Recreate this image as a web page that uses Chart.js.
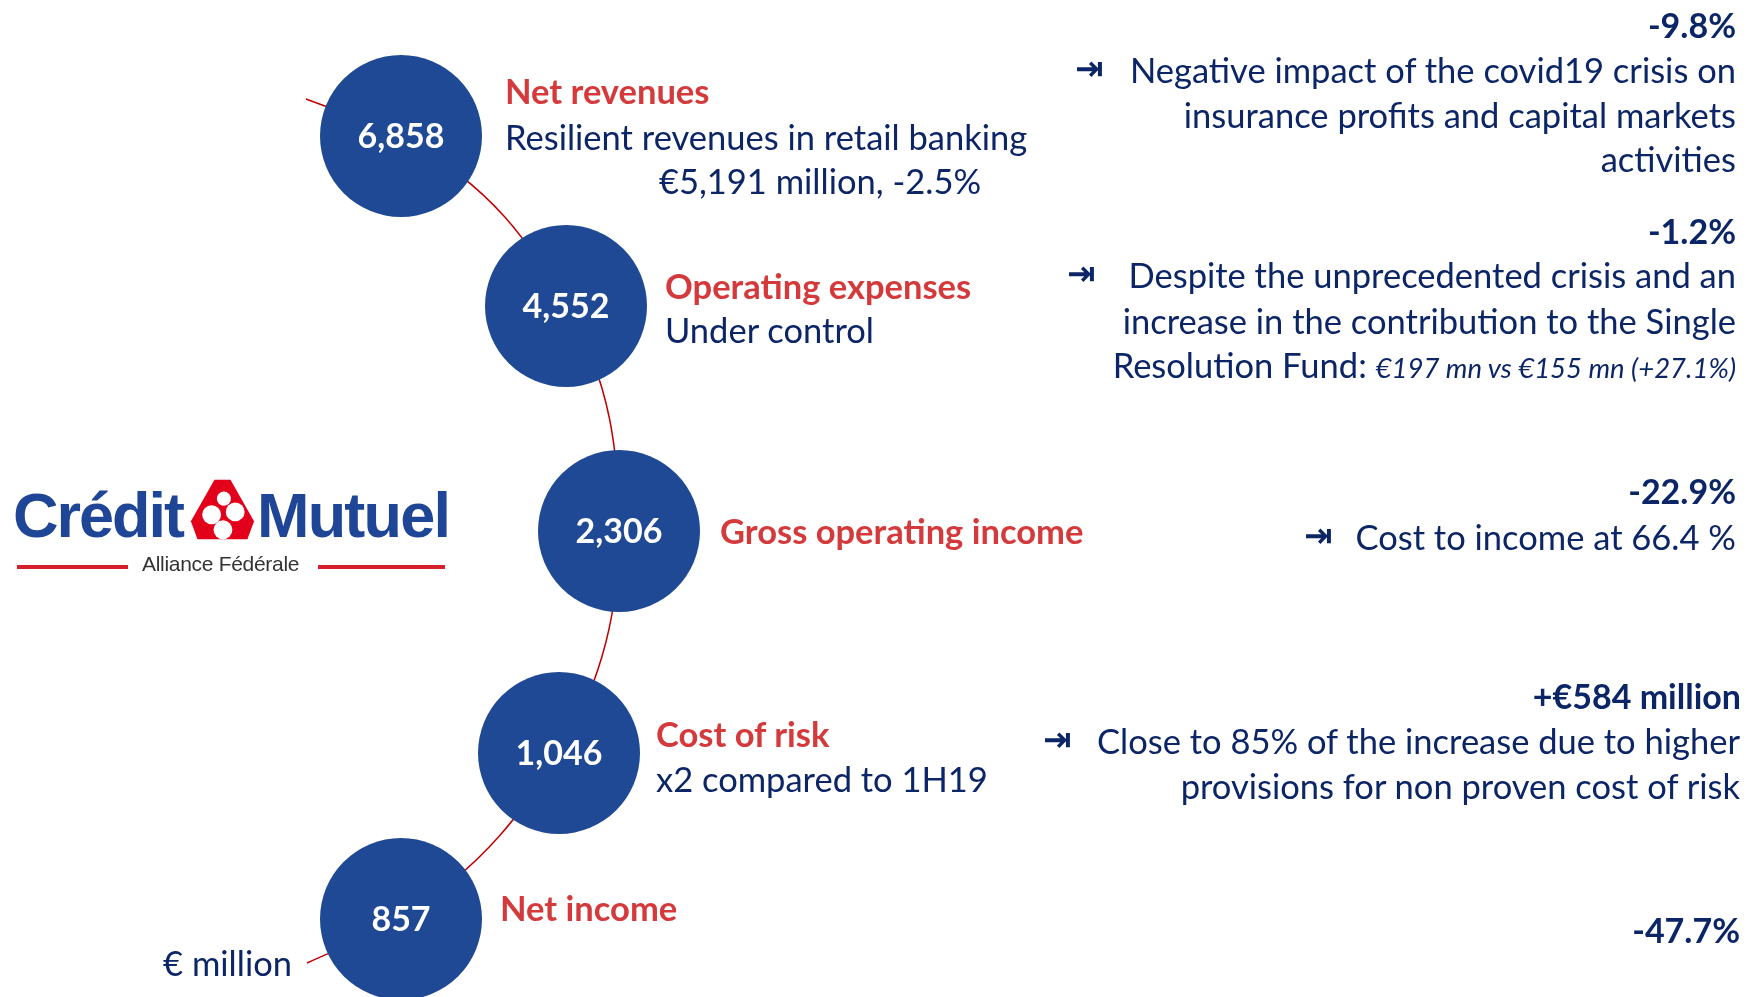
<!DOCTYPE html>
<html>
<head>
<meta charset="utf-8">
<script src="https://cdn.jsdelivr.net/npm/chart.js@4.4.1/dist/chart.umd.min.js"></script>
<style>
    html, body { margin: 0; padding: 0; background: #fff; }
    #stage { position: relative; width: 1747px; height: 997px; overflow: hidden; font-family: Lato, 'Open Sans', sans-serif; color: #0c2566; }
    #chart { position: absolute; left: 0; top: 0; }
    .t { position: absolute; white-space: nowrap; font-size: 34.5px; line-height: 44px; height: 44px; }
    .head { color: #d43a3c; font-weight: 700; font-size: 34.5px; }
    .chg { font-weight: 700; font-size: 34px; text-align: right; }
    .cmt { text-align: right; }
    .arrow { position: absolute; font-family: 'DejaVu Sans', sans-serif; font-weight: bold; font-size: 34px; line-height: 44px; color: #0c2566; }
    .logo-word { position: absolute; font-family: 'Liberation Sans', Arial, sans-serif; font-weight: 700; font-size: 63px; line-height: 63px; color: #1e4596; }
    .rule { position: absolute; height: 4px; background: #d5202b; }
</style>
</head>
<body>
<div id="stage">
    <canvas id="chart" width="1747" height="997"></canvas>
    <div id="labels"></div>

    <!-- logo -->
    <div class="logo-word" style="left:13px; top:484px; letter-spacing:-2px;">Crédit</div>
    <svg style="position:absolute; left:189px; top:477px;" width="66" height="66" viewBox="0 0 70 70">
        <polygon points="27,3 44,3 69,47 62,66 9,66 2,47" fill="#e2001a"/>
        <circle cx="37" cy="23" r="7.5" fill="#fff"/>
        <circle cx="24" cy="40" r="10" fill="#fff"/>
        <circle cx="49" cy="37" r="10" fill="#fff"/>
        <circle cx="36" cy="56" r="10" fill="#fff"/>
    </svg>
    <div class="logo-word" style="left:257px; top:484px; letter-spacing:-1.8px;">Mutuel</div>
    <div class="rule" style="left:17px; top:565px; width:111px;"></div>
    <div class="rule" style="left:318px; top:565px; width:127px;"></div>
    <div style="position:absolute; left:142px; top:552px; font:21px 'Liberation Sans', Arial, sans-serif; letter-spacing:-0.3px; color:#333;">Alliance Fédérale</div>
</div>

<script>
// --- data ---
const steps = ['Net revenues', 'Operating expenses', 'Gross operating income', 'Cost of risk', 'Net income'];
const values = [6858, 4552, 2306, 1046, 857];
const changes = ['-9.8%', '-1.2%', '-22.9%', '+€584 million', '-47.7%'];
const stepNotes = [
    ['Resilient revenues in retail banking', '€5,191 million, -2.5%'],
    ['Under control'],
    [],
    ['x2 compared to 1H19'],
    []
];
const comments = [
    ['Negative impact of the covid19 crisis on', 'insurance profits and capital markets', 'activities'],
    ['Despite the unprecedented crisis and an', 'increase in the contribution to the Single', 'Resolution Fund: <i style="font-size:27.5px">€197 mn vs €155 mn (+27.1%)</i>'],
    ['Cost to income at 66.4 %'],
    ['Close to 85% of the increase due to higher', 'provisions for non proven cost of risk'],
    []
];
const unitLabel = '€ million';

// --- layout (chart units = page pixels) ---
const nodeX = [401, 566, 619, 559, 401];
const nodeY = [136, 306, 531, 753, 919];
const nodeR = 81;
const tailStart = { x: 306, y: 99 };
const tailEnd = { x: 307, y: 963 };

const headPos = [[505, 91], [665, 286], [720, 531], [656, 734], [500, 908]];
const notePos = [[[505, 137], [659, 181]], [[665, 330]], [], [[656, 779]], []];
const changeY = [25, 231, 491, 696, 930];
const changeRight = [1736, 1736, 1736, 1741, 1740];
const commentY = [[70, 115, 159], [275, 321, 365], [537], [741, 786], []];
const commentRight = [1736, 1736, 1736, 1740, 1740];
const arrowX = [1075, 1067, 1304, 1043, null];

// --- text ---
let html = '';
steps.forEach((s, i) => {
    html += `<div class="t head" style="left:${headPos[i][0]}px; top:${headPos[i][1] - 22}px;">${s}</div>`;
    stepNotes[i].forEach((n, j) => {
        const p = notePos[i][j];
        html += `<div class="t" style="left:${p[0]}px; top:${p[1] - 22}px;">${n}</div>`;
    });
    html += `<div class="t chg" style="right:${1747 - changeRight[i]}px; top:${changeY[i] - 22}px;">${changes[i]}</div>`;
    comments[i].forEach((c, j) => {
        html += `<div class="t cmt" style="right:${1747 - commentRight[i]}px; top:${commentY[i][j] - 22}px;">${c}</div>`;
    });
    if (arrowX[i] !== null) {
        html += `<div class="arrow" style="left:${arrowX[i]}px; top:${commentY[i][0] - 24}px;">⇥</div>`;
    }
});
html += `<div class="t" style="right:${1747 - 292}px; top:${963 - 22}px;">${unitLabel}</div>`;
document.getElementById('labels').innerHTML = html;

// --- chart ---
const valueLabels = {
    id: 'valueLabels',
    afterDatasetsDraw(chart) {
        const meta = chart.getDatasetMeta(1);
        const ctx = chart.ctx;
        ctx.save();
        ctx.font = '700 34px Lato';
        ctx.fillStyle = '#ffffff';
        ctx.textAlign = 'center';
        ctx.textBaseline = 'middle';
        meta.data.forEach((el, i) => {
            ctx.fillText(values[i].toLocaleString('en-US'), el.x, el.y + 1);
        });
        ctx.restore();
    }
};

const nodes = values.map((v, i) => ({ x: nodeX[i], y: nodeY[i], r: nodeR, v: v }));

new Chart(document.getElementById('chart').getContext('2d'), {
    type: 'line',
    data: {
        datasets: [{
            type: 'line',
            data: [tailStart, ...nodes.map(n => ({ x: n.x, y: n.y })), tailEnd],
            indexAxis: 'y',
            borderColor: '#c00000',
            borderWidth: 1.5,
            pointRadius: 0,
            cubicInterpolationMode: 'monotone',
            fill: false,
            clip: false,
            order: 2
        }, {
            type: 'bubble',
            data: nodes,
            backgroundColor: '#1f4994',
            borderWidth: 0,
            hoverRadius: 0,
            clip: false,
            order: 1
        }]
    },
    options: {
        responsive: false,
        animation: false,
        events: [],
        layout: { padding: 0, autoPadding: false },
        scales: {
            x: { type: 'linear', min: 0, max: 1747, display: false },
            y: { type: 'linear', min: 0, max: 997, reverse: true, display: false }
        },
        plugins: { legend: { display: false }, tooltip: { enabled: false } }
    },
    plugins: [valueLabels]
});
</script>
</body>
</html>
